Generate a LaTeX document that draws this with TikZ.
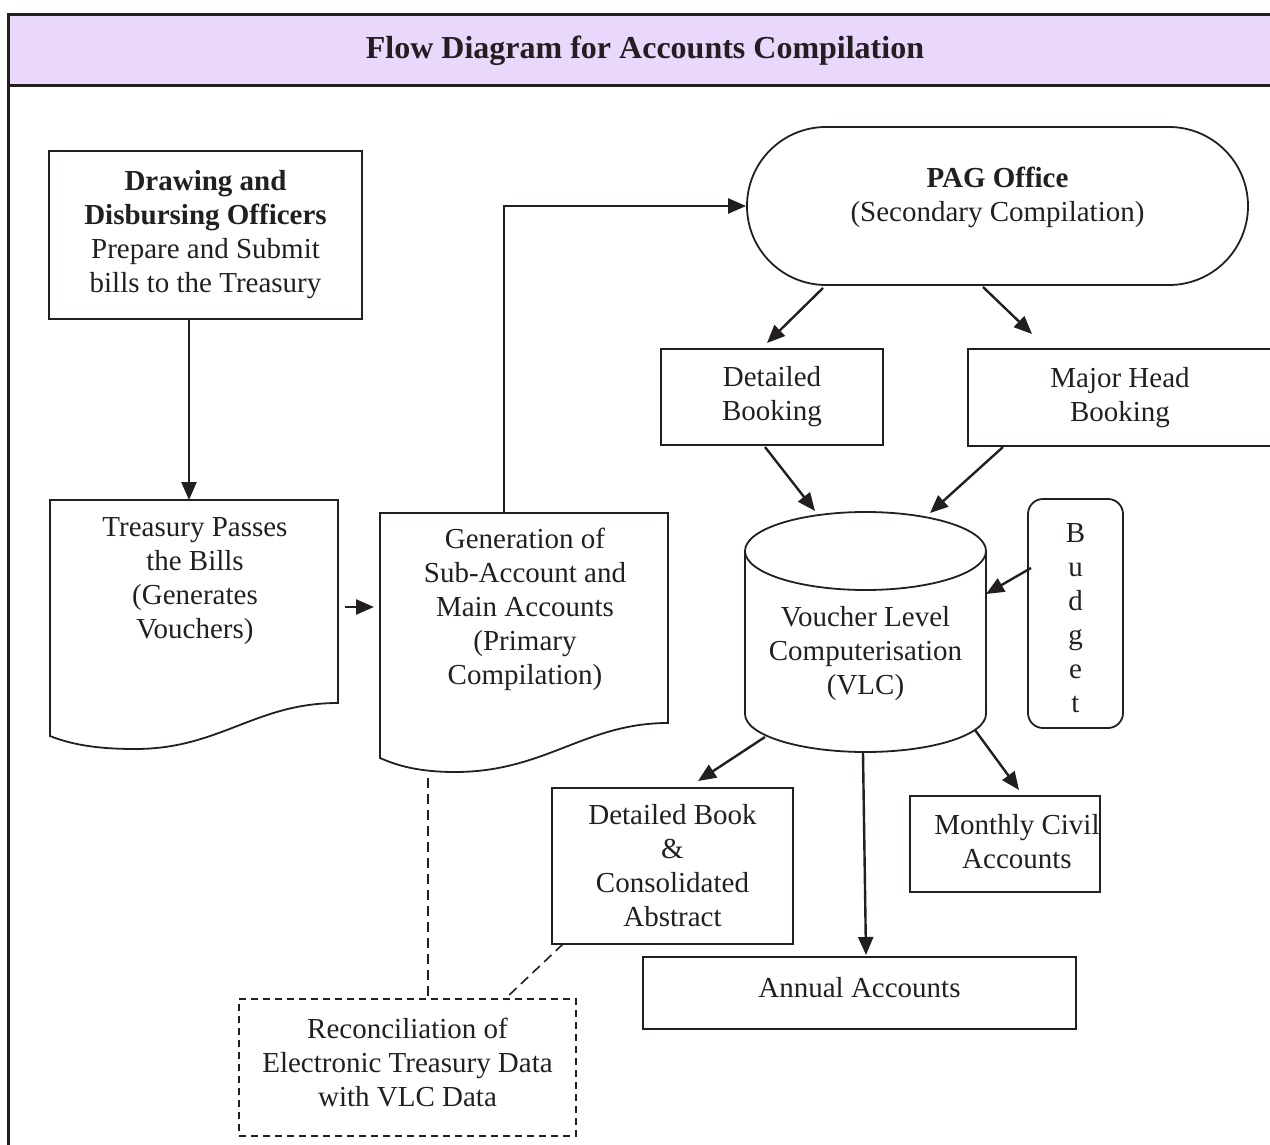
\documentclass[tikz,border=0pt]{standalone}
\usepackage{fontspec}
\setmainfont{Liberation Serif}
\usetikzlibrary{arrows.meta}
\definecolor{titlebg}{RGB}{233,215,252}
\definecolor{ink}{RGB}{35,31,32}
\begin{document}
\begin{tikzpicture}[x=1pt,y=-1pt,
  txt/.style={font=\fontsize{29}{34}\selectfont, align=center, text=ink},
  boxn/.style={draw=ink, line width=1.8pt, rectangle, inner sep=0pt, txt},
  arr/.style={draw=ink, line width=2.4pt, -{Triangle[length=18pt,width=15pt]}},
  dsh/.style={draw=ink, line width=1.6pt, dash pattern=on 10pt off 6pt},
]
\useasboundingbox (0,0) rectangle (1270,1145);
\clip (0,0) rectangle (1270,1145);
% frame and title
\fill[titlebg] (8,15) rectangle (1280,86);
\draw[ink, line width=3pt] (1280,15) -- (8,15) -- (8,1160);
\draw[ink, line width=3pt] (8,86) -- (1280,86);
\node[font=\fontsize{32}{36}\selectfont\bfseries, text=ink] (title) at (645,51) {Flow Diagram for Accounts Compilation};

% Drawing and Disbursing Officers
\node[boxn, minimum width=313pt, minimum height=168pt] (ddo) at (205.5,235)
  {\textbf{Drawing and}\\\textbf{Disbursing Officers}\\Prepare and Submit\\bills to the Treasury};

% Treasury document shape
\draw[ink, line width=1.8pt] (50,500) -- (338,500) -- (338,703)
  .. controls (255,703) and (220,749) .. (135,749)
  .. controls (95,749) and (70,744) .. (50,736) -- cycle;
\node[txt] (treas) at (195,581) {Treasury Passes\\the Bills\\(Generates\\Vouchers)};
\coordinate (treasTop) at (189,500);
\coordinate (treasR) at (345,607);

% Generation document shape
\draw[ink, line width=1.8pt] (380,513) -- (668,513) -- (668,723)
  .. controls (585,723) and (545,772) .. (455,772)
  .. controls (420,772) and (398,766) .. (380,758) -- cycle;
\node[txt] (gen) at (525,609) {Generation of\\Sub-Account and\\Main Accounts\\(Primary\\Compilation)};
\coordinate (genL) at (374,607);
\coordinate (genTop) at (504,513);
\coordinate (genBot) at (428,778);

% PAG Office
\node[draw=ink, line width=1.8pt, rectangle, rounded corners=79pt, minimum width=501pt, minimum height=158pt, inner sep=0pt] (pag) at (997.5,206) {};
\node[txt] (pagT) at (997.5,197) {\textbf{PAG Office}\\(Secondary Compilation)};

% Bookings
\node[boxn, minimum width=222pt, minimum height=96pt] (dbk) at (772,397) {Detailed\\Booking};
\node[boxn, minimum width=304pt, minimum height=97pt] (mhb) at (1120,397.5) {Major Head\\Booking};

% VLC cylinder
\draw[ink, line width=1.8pt] (745,551) -- (745,714)
  arc[start angle=180, end angle=360, x radius=120.5pt, y radius=38pt] -- (986,551);
\draw[ink, line width=1.8pt] (865.5,551) ellipse[x radius=120.5pt, y radius=39pt];
\node[txt] (vlc) at (865.5,654) {Voucher Level\\Computerisation\\(VLC)};

% Budget
\node[draw=ink, line width=1.8pt, rectangle, rounded corners=15pt, minimum width=95pt, minimum height=229pt, inner sep=0pt] (bud) at (1075.5,613.5) {};
\node[txt] (budT) at (1075.5,618) {B\\u\\d\\g\\e\\t};

% Outputs
\node[boxn, minimum width=241pt, minimum height=156pt] (dbook) at (672.5,866) {Detailed Book\\\&\\Consolidated\\Abstract};
\node[boxn, minimum width=190pt, minimum height=96pt] (mca) at (1005,844) {};
\node[txt] (mcaT) at (1017,842) {Monthly Civil\\Accounts};
\node[boxn, minimum width=433pt, minimum height=72pt] (ann) at (859.5,993) {};
\node[txt] (annT) at (859.5,988) {Annual Accounts};

% Reconciliation
\node[draw=ink, line width=1.6pt, dash pattern=on 7pt off 5pt, rectangle, minimum width=337pt, minimum height=137pt, inner sep=0pt] (rec) at (407.5,1067.5) {};
\node[txt] (recT) at (407.5,1063) {Reconciliation of\\Electronic Treasury Data\\with VLC Data};

% Connectors
\draw[arr] (ddo.south -| treasTop) -- (treasTop);
\draw[arr] (treasR) -- (genL);
\draw[arr] (genTop) |- (pag.west);
\draw[arr] (823,288) -- (767,343);
\draw[arr] (983,287) -- (1032,334);
\draw[arr] (765,447) -- (815,511);
\draw[arr] (1003,447) -- (930,513);
\draw[arr] (1031,568) -- (986,594);
\draw[arr] (765,737) -- (698,781);
\draw[arr] (863,753) -- (866,955);
\draw[arr] (975,730) -- (1019,790);
\draw[dsh] (genBot) -- (genBot |- rec.north);
\draw[dsh] (563,944) -- (505,999);
\end{tikzpicture}
\end{document}
